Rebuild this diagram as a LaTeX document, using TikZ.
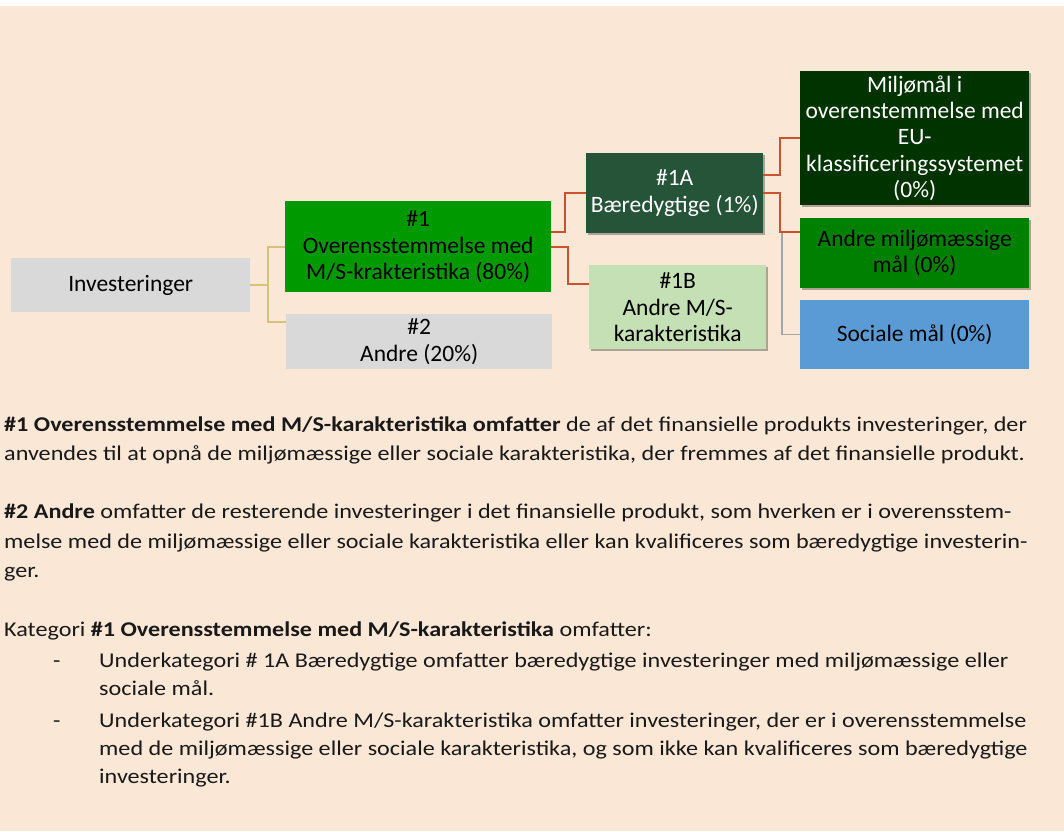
\documentclass[tikz,border=0pt]{standalone}
\usepackage{fontspec}
\setmainfont{Carlito}
\newfontfamily\bodyfont[FakeStretch=1.15]{Carlito}
\usetikzlibrary{shadows}
\definecolor{peach}{HTML}{FBE7D6}
\definecolor{boxgray}{HTML}{D9D9D9}
\definecolor{grn}{HTML}{009900}
\definecolor{darkgrn}{HTML}{265438}
\definecolor{vdarkgrn}{HTML}{003300}
\definecolor{midgrn}{HTML}{008000}
\definecolor{lightgrn}{HTML}{C5E0B4}
\definecolor{socblue}{HTML}{5B9BD5}
\definecolor{linered}{HTML}{C9532E}
\definecolor{lineyel}{HTML}{D4C47A}
\definecolor{linegray}{HTML}{A6A6A6}
\tikzset{
  box/.style={rectangle, anchor=north west, inner sep=0pt, align=center,
    font=\fontsize{23.5}{26.3}\selectfont},
  shad/.style={drop shadow={shadow xshift=2pt, shadow yshift=-2pt, opacity=0.3, fill=black}},
  body/.style={anchor=base west, inner sep=0pt, font=\bodyfont\fontsize{21}{29}\selectfont, text=black!90},
  yel/.style={draw=lineyel, line width=2pt},
  red/.style={draw=linered, line width=2pt},
  gry/.style={draw=linegray, line width=1.5pt},
}
\begin{document}
\begin{tikzpicture}[x=1pt,y=-1pt]
\useasboundingbox (0,0) rectangle (1064,831);
\fill[white] (0,0) rectangle (1064,831);
\fill[peach] (0,6) rectangle (1064,831);

% boxes
\node[box, fill=boxgray, minimum width=239pt, minimum height=54pt] (inv) at (11,258) {Investeringer};
\node[box, fill=grn, minimum width=266pt, minimum height=91pt] (n1) at (285,201) {\#1\\Overensstemmelse med\\M/S-krakteristika (80\%)};
\node[box, fill=boxgray, minimum width=266pt, minimum height=55pt] (n2) at (286,314) {\#2\\Andre (20\%)};
\node[box, shad, fill=darkgrn, text=white, minimum width=177pt, minimum height=80pt] (n1a) at (586,153) {\#1A\\Bæredygtige (1\%)};
\node[box, shad, fill=lightgrn, minimum width=177pt, minimum height=84pt] (n1b) at (589,265) {\#1B\\Andre M/S-\\karakteristika};
\node[box, shad, fill=vdarkgrn, text=white, minimum width=229pt, minimum height=134pt] (env) at (800,71) {Miljømål i\\overenstemmelse med\\EU-\\klassificeringssystemet\\(0\%)};
\node[box, shad, fill=midgrn, minimum width=229pt, minimum height=70pt] (oth) at (800,218) {Andre miljømæssige\\mål (0\%)};
\node[box, fill=socblue, minimum width=229pt, minimum height=69pt] (soc) at (800,300) {Sociale mål (0\%)};

% connectors
\draw[yel] (inv.east) -- ++(18,0) |- (n1.west);
\draw[yel] (inv.east) -- ++(18,0) |- ([yshift=19.5pt]n2.west);
\coordinate (gstart) at (782,233);
\draw[gry] (gstart) |- (soc.west);
\draw[red] ([yshift=14.5pt]n1.east) -- ++(14,0) |- (n1a.west);
\draw[red] ([yshift=-0.5pt]n1.east) -- ++(17,0) |- ([yshift=23pt]n1b.west);
\draw[red] ([yshift=18pt]n1a.east) -- ++(17,0) |- (env.west);
\draw[red] (n1a.east) -- ++(17,0) |- ([yshift=21pt]oth.west);

% body text
\node[body] (t1) at (4,431.5) {\textbf{\#1 Overensstemmelse med M/S-karakteristika omfatter} de af det finansielle produkts investeringer, der};
\node[body] (t2) at (4,460) {anvendes til at opnå de miljømæssige eller sociale karakteristika, der fremmes af det finansielle produkt.};
\node[body] (t3) at (4,518) {\textbf{\#2 Andre} omfatter de resterende investeringer i det finansielle produkt, som hverken er i overensstem-};
\node[body] (t4) at (4,548) {melse med de miljømæssige eller sociale karakteristika eller kan kvalificeres som bæredygtige investerin-};
\node[body] (t5) at (4,577) {ger.};
\node[body] (t6) at (4,636) {Kategori \textbf{\#1 Overensstemmelse med M/S-karakteristika} omfatter:};
\node[body] (d1) at (53,667) {-};
\node[body] (t7) at (99,667) {Underkategori \# 1A Bæredygtige omfatter bæredygtige investeringer med miljømæssige eller};
\node[body] (t8) at (99,695) {sociale mål.};
\node[body] (d2) at (53,727) {-};
\node[body] (t9) at (99,727) {Underkategori \#1B Andre M/S-karakteristika omfatter investeringer, der er i overensstemmelse};
\node[body] (t10) at (99,755) {med de miljømæssige eller sociale karakteristika, og som ikke kan kvalificeres som bæredygtige};
\node[body] (t11) at (99,783) {investeringer.};
\end{tikzpicture}
\end{document}
